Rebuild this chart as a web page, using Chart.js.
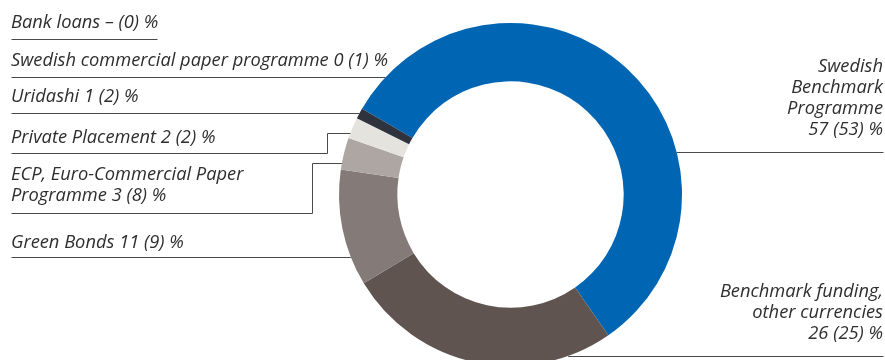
<!DOCTYPE html>
<html>
<head>
<meta charset="utf-8">
<script src="https://cdn.jsdelivr.net/npm/chart.js@4"></script>
<style>
  html, body { margin: 0; padding: 0; background: #fff; overflow: hidden; }
  #wrap { width: 885px; height: 400px; }
</style>
</head>
<body>
<div id="wrap"><canvas id="funding-chart" width="885" height="400"></canvas></div>
<script>
// Funding sources, share of total (%), this year and previous year
const categories = [
  "Swedish\nBenchmark\nProgramme",
  "Benchmark funding,\nother currencies",
  "Green Bonds",
  "ECP, Euro-Commercial Paper\nProgramme",
  "Private Placement",
  "Uridashi",
  "Swedish commercial paper programme",
  "Bank loans"
];
const shareThisYear = [57, 26, 11, 3, 2, 1, 0, null];
const sharePrevYear = [53, 25, 9, 8, 2, 2, 1, 0];

const sliceColors = ["#0066b3", "#605450", "#847a77", "#aea6a3", "#e5e3de", "#2e333d", "#2e333d", "#2e333d"];

const FONT = "italic 18.3px 'Open Sans', sans-serif";
const TEXT_COLOR = "#2e2e2e";
const LINE_COLOR = "#4a4a4a";

function labelText(i, newLineValue) {
  const cur = shareThisYear[i] === null ? "–" : shareThisYear[i];
  return categories[i] + (newLineValue ? "\n" : " ") + cur + " (" + sharePrevYear[i] + ") %";
}

// where each label and its leader line go ("edge" = outer rim of the ring at that y)
const labelLayout = [
  { align: "right", x: 883, y: 72, newLine: true, lead: [["edgeR", 152], [883, 152]] },
  { align: "right", x: 883, y: 297, newLine: true, lead: [["edgeR", 356], [883, 356]] },
  { align: "left", x: 11, y: 248, lead: [[11, 257], ["edgeL", 257]] },
  { align: "left", x: 11, y: 180, lead: [[11, 213], [312, 213], [312, 163], ["edgeL", 163]] },
  { align: "left", x: 11, y: 143, lead: [[11, 153], [327, 153], [327, 133], ["edgeL", 133]] },
  { align: "left", x: 11, y: 102, lead: [[11, 113], ["edgeL", 113]] },
  { align: "left", x: 11, y: 66, lead: [[11, 77], ["edgeL", 77]] },
  { align: "left", x: 11, y: 28, lead: [[11, 39], [157, 39]] }
];

const calloutPlugin = {
  id: "callouts",
  afterDraw(chart) {
    const ctx = chart.ctx;
    const arc = chart.getDatasetMeta(0).data[0];
    const cx = arc.x, cy = arc.y, R = arc.outerRadius;
    const edgeX = (side, y) => {
      const dx = Math.sqrt(Math.max(0, R * R - (y - cy) * (y - cy)));
      return side === "edgeL" ? cx - dx : cx + dx;
    };
    ctx.save();
    ctx.font = FONT;
    ctx.fillStyle = TEXT_COLOR;
    ctx.textBaseline = "alphabetic";
    labelLayout.forEach((l, i) => {
      ctx.textAlign = l.align;
      labelText(i, l.newLine).split("\n").forEach((line, k) => {
        ctx.fillText(line, l.x, l.y + k * 21);
      });
      ctx.beginPath();
      l.lead.forEach((p, k) => {
        const y = Math.round(p[1]) + 0.5;
        const x = typeof p[0] === "string" ? edgeX(p[0], p[1]) : p[0] + 0.5;
        if (k === 0) ctx.moveTo(x, y); else ctx.lineTo(x, y);
      });
      ctx.strokeStyle = LINE_COLOR;
      ctx.lineWidth = 1;
      ctx.stroke();
    });
    ctx.restore();
  }
};

const fundingChart = new Chart(document.getElementById("funding-chart").getContext("2d"), {
  type: "doughnut",
  data: {
    labels: categories,
    datasets: [{
      data: shareThisYear,
      backgroundColor: sliceColors,
      borderWidth: 0
    }]
  },
  options: {
    responsive: false,
    animation: false,
    rotation: -60,
    cutout: "66%",
    layout: { padding: { left: 339, right: 203, top: 23, bottom: 34 } },
    plugins: {
      legend: { display: false },
      tooltip: { enabled: false }
    }
  },
  plugins: [calloutPlugin]
});
</script>
</body>
</html>
